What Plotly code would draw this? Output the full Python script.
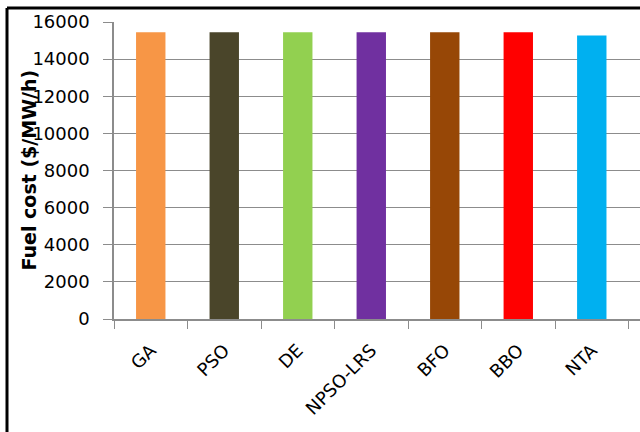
import plotly.graph_objects as go

# Fuel cost by optimisation method
methods = ["GA", "PSO", "DE", "NPSO-LRS", "BFO", "BBO", "NTA"]
fuel_cost = [15449, 15450, 15449, 15450, 15443, 15443, 15275]
bar_colors = ["#F79646", "#4A452A", "#92D050", "#7030A0", "#974706", "#FF0000", "#00B0F0"]
y_ticks = [0, 2000, 4000, 6000, 8000, 10000, 12000, 14000, 16000]

W, H = 640, 432
L, T, B, R = 114, 22, 113, 0
pw, ph = W - L - R, H - T - B

def px_x(px):
    return (px - L) / pw

def px_y(py):
    return (H - B - py) / ph

font = dict(family="DejaVu Sans", size=18, color="#000000")
grey = "#8C8C8C"

fig = go.Figure(go.Bar(
    x=methods,
    y=fuel_cost,
    marker=dict(color=bar_colors, line=dict(width=0)),
    width=0.4,
))

fig.update_layout(
    width=W, height=H,
    margin=dict(l=L, r=R, t=T, b=B, autoexpand=False),
    paper_bgcolor="white", plot_bgcolor="white",
    showlegend=False,
    font=font,
    xaxis=dict(
        type="category",
        range=[-0.5, 6.656],
        tickson="boundaries",
        ticks="outside", ticklen=8, tickcolor=grey, tickwidth=1,
        ticklabelstandoff=12,
        showline=True, linecolor=grey, linewidth=1.5,
        showgrid=False,
        tickangle=-45,
        tickfont=font,
        automargin=False,
    ),
    yaxis=dict(
        range=[0, 16000],
        tickvals=y_ticks,
        ticktext=[str(v) for v in y_ticks],
        ticks="outside", ticklen=9, tickcolor=grey, tickwidth=1,
        ticklabelstandoff=10,
        showline=True, linecolor=grey, linewidth=1.5,
        showgrid=True, gridcolor=grey, gridwidth=1,
        zeroline=False,
        tickfont=font,
        automargin=False,
    ),
    annotations=[dict(
        text="<b>Fuel cost ($/MW/h)</b>",
        xref="paper", yref="paper",
        x=px_x(28), y=0.5,
        xanchor="center", yanchor="middle",
        textangle=-90, showarrow=False,
        font=dict(family="DejaVu Sans", size=19, color="#000000"),
    )],
    shapes=[
        dict(type="line", xref="paper", yref="paper",
             x0=px_x(7), x1=px_x(645), y0=px_y(8), y1=px_y(8),
             line=dict(color="#000000", width=3)),
        dict(type="line", xref="paper", yref="paper",
             x0=px_x(7), x1=px_x(7), y0=px_y(8), y1=px_y(440),
             line=dict(color="#000000", width=3)),
    ],
)

fig.write_html("out.html")
